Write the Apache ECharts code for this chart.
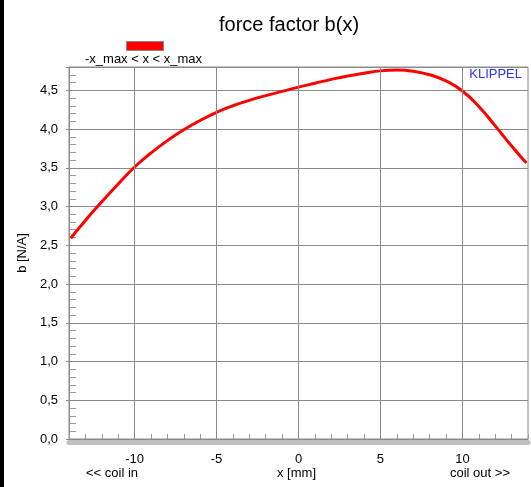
<!DOCTYPE html>
<html><head><meta charset="utf-8">
<script src="https://cdn.jsdelivr.net/npm/echarts@6/dist/echarts.min.js"></script>
<style>html,body{margin:0;padding:0;background:#fff}#c{width:531px;height:487px}</style>
</head><body><div id="c"></div>
<script>
const xValues = [-13.9,-13,-12,-11,-10,-9,-8,-7,-6,-5,-4,-3,-2,-1,0,1,2,3,4,5,6,7,8,9,10,11,12,13,13.9];
const bValues = [2.59,2.82,3.06,3.29,3.51,3.69,3.85,3.99,4.11,4.215,4.30,4.37,4.43,4.485,4.54,4.59,4.64,4.685,4.72,4.75,4.76,4.745,4.70,4.62,4.49,4.29,4.04,3.78,3.56];
const xMajor = [-10,-5,0,5,10];
const seriesName = '-x_max < x < x_max';
const titleText = 'force factor b(x)';
const yName = 'b [N/A]';
const xName = 'x [mm]';
const leftNote = '<< coil in';
const rightNote = 'coil out >>';
const brand = 'KLIPPEL';

const FONT = 'Liberation Sans, Arial, sans-serif';
const chart = echarts.init(document.getElementById('c'));
const data = xValues.map((x,i)=>[x,bValues[i]]);
const fmt = v => v.toFixed(1).replace('.', ',');
chart.setOption({
  animation:false,
  backgroundColor:'#fff',
  title:{text:titleText,left:214,top:10,textStyle:{fontFamily:FONT,fontSize:20,fontWeight:'normal',color:'#000'}},
  grid:{left:69,right:1,top:67,bottom:48,show:true,borderColor:'#8a8a8a',borderWidth:1,backgroundColor:'#fff'},
  xAxis:[{
    type:'value',min:-14,max:14,interval:1,
    axisLine:{show:true,onZero:false,lineStyle:{color:'#8a8a8a',width:1}},
    axisTick:{show:true,inside:true,length:5,lineStyle:{color:'#9a9a9a'}},
    axisLabel:{margin:14,fontFamily:FONT,fontSize:13,color:'#000',
      formatter:v=>xMajor.includes(v)?String(v):''},
    splitLine:{show:false}
  },{
    type:'value',min:-14,max:14,position:'bottom',offset:3,
    axisLine:{show:true,onZero:false,lineStyle:{color:'#c0c0c0',width:5}},
    axisTick:{show:false},axisLabel:{show:false},splitLine:{show:false}
  }],
  yAxis:{
    type:'value',min:0,max:4.8,interval:0.5,
    name:yName,nameLocation:'middle',nameGap:45,nameRotate:90,
    nameTextStyle:{fontFamily:FONT,fontSize:13,color:'#000',padding:[0,0,-18,0]},
    axisLine:{show:true,onZero:false,lineStyle:{color:'#8a8a8a'}},
    axisTick:{show:true,length:3,lineStyle:{color:'#8a8a8a'}},
    minorTick:{show:true,splitNumber:5,length:-7,lineStyle:{color:'#9a9a9a'}},
    axisLabel:{margin:11,fontFamily:FONT,fontSize:13,color:'#000',
      formatter:v=>Math.abs(v*2-Math.round(v*2))<1e-6?fmt(v):''},
    splitLine:{show:true,lineStyle:{color:'#8a8a8a',width:1}}
  },
  graphic:[
    {type:'rect',z:100,left:0,top:0,shape:{width:4,height:487},style:{fill:'#000'}},
    {type:'rect',z:100,left:126,top:41,shape:{width:37,height:9},style:{fill:'#ff0000',stroke:'#888',lineWidth:1}},
    {type:'text',z:100,left:85,top:53,style:{text:seriesName,font:'13px '+FONT,fill:'#000'}},
    {type:'text',z:100,right:9,top:68,style:{text:brand,font:'13px '+FONT,fill:'#3030ff'}},
    {type:'text',z:100,left:86,top:467,style:{text:leftNote,font:'13px '+FONT,fill:'#000'}},
    {type:'text',z:100,left:277,top:467,style:{text:xName,font:'13px '+FONT,fill:'#000'}},
    {type:'text',z:100,left:450,top:467,style:{text:rightNote,font:'13px '+FONT,fill:'#000'}}
  ],
  series:[{
    name:seriesName,type:'line',data:data,smooth:0.5,showSymbol:false,
    lineStyle:{color:'#ff0000',width:3},
    markLine:{silent:true,symbol:'none',label:{show:false},
      lineStyle:{color:'#8a8a8a',width:1,type:'solid'},
      data:xMajor.map(v=>({xAxis:v}))}
  }]
});
</script></body></html>
